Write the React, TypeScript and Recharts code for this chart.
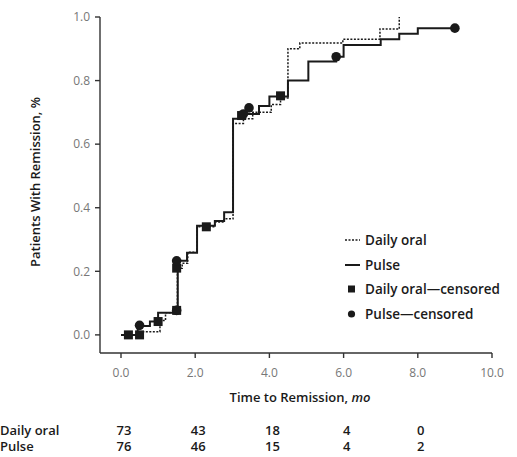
import {
    ComposedChart,
    Line,
    Scatter,
    XAxis,
    YAxis,
} from 'recharts';

// Kaplan-Meier style step data (time in months, proportion)
const oralTimes = [0, 0.6, 1.05, 1.2, 1.52, 1.65, 1.8, 2.05, 2.53, 2.78, 3.02, 3.3, 3.55, 4.05, 4.3, 4.5, 4.82, 5.98, 6.98, 7.5];
const oralValues = [0, 0.01, 0.045, 0.07, 0.21, 0.225, 0.26, 0.34, 0.355, 0.365, 0.665, 0.68, 0.7, 0.725, 0.745, 0.9, 0.918, 0.93, 0.962, 1.0];

const pulseTimes = [0, 0.45, 0.78, 1.0, 1.53, 1.78, 2.05, 2.53, 2.78, 3.02, 3.25, 3.72, 4.0, 4.5, 5.05, 5.8, 6.0, 7.0, 7.5, 8.0, 9.0];
const pulseValues = [0, 0.028, 0.042, 0.07, 0.233, 0.258, 0.343, 0.358, 0.386, 0.68, 0.695, 0.72, 0.75, 0.8, 0.86, 0.875, 0.912, 0.93, 0.947, 0.965, 0.965];

const oralCensorTimes = [0.2, 0.5, 1.0, 1.5, 1.5, 2.3, 3.25, 4.3];
const oralCensorValues = [0, 0, 0.042, 0.077, 0.21, 0.34, 0.69, 0.752];

const pulseCensorTimes = [0.5, 1.5, 1.5, 3.3, 3.45, 5.8, 9.0];
const pulseCensorValues = [0.03, 0.077, 0.233, 0.695, 0.714, 0.875, 0.965];

const xTicks = [0, 2, 4, 6, 8, 10];
const yTicks = [0, 0.2, 0.4, 0.6, 0.8, 1.0];

const riskTimes = [0, 2, 4, 6, 8];
const oralAtRisk = [73, 43, 18, 4, 0];
const pulseAtRisk = [76, 46, 15, 4, 2];

const legendItems = [
    { label: 'Daily oral', kind: 'dotted' },
    { label: 'Pulse', kind: 'solid' },
    { label: 'Daily oral\u2014censored', kind: 'square' },
    { label: 'Pulse\u2014censored', kind: 'circle' },
];

const zip = (ts: number[], vs: number[]) => ts.map((t, i) => ({ t, p: vs[i] }));

const oralData = zip(oralTimes, oralValues);
const pulseData = zip(pulseTimes, pulseValues);
const oralCensored = zip(oralCensorTimes, oralCensorValues);
const pulseCensored = zip(pulseCensorTimes, pulseCensorValues);

const font = '"Open Sans", Lato, sans-serif';
const ink = '#1a1a1a';
const axisColor = '#333';
const X_DOMAIN: [number, number] = [-0.566, 10];

const SquareMark = (props: any) => {
    const { cx, cy } = props;
    if (cx == null || cy == null) return null;
    return <rect x={cx - 4.5} y={cy - 4.5} width={9} height={9} fill={ink} />;
};

const CircleMark = (props: any) => {
    const { cx, cy } = props;
    if (cx == null || cy == null) return null;
    return <circle cx={cx} cy={cy} r={4.8} fill={ink} />;
};

const makeRiskTick = (name: string, counts: number[]) => (props: any) => {
    const { x, y, payload, index } = props;
    const n = counts[riskTimes.indexOf(payload.value)];
    return (
        <g>
            {index === 0 && (
                <text x={0} y={y} dy={14.5} fontFamily={font} fontSize={13} fontWeight={600} fill={ink}>
                    {name}
                </text>
            )}
            <text x={x + 3} y={y} dy={14.5} textAnchor="middle" fontFamily={font} fontSize={13} fontWeight={600} fill={ink}>
                {n}
            </text>
        </g>
    );
};

const XLabel = (props: any) => {
    const { viewBox } = props;
    const cx = viewBox.x + viewBox.width / 2;
    return (
        <text x={cx + 4} y={viewBox.y + 49} textAnchor="middle" fontFamily={font} fontSize={13} fontWeight={600} fill={ink}>
            Time to Remission, <tspan fontStyle="italic">mo</tspan>
        </text>
    );
};

const YLabel = (props: any) => {
    const { viewBox } = props;
    const cy = viewBox.y + viewBox.height / 2 - 3;
    return (
        <text
            x={40}
            y={cy}
            transform={`rotate(-90, 40, ${cy})`}
            textAnchor="middle"
            fontFamily={font}
            fontSize={13}
            fontWeight={600}
            fill={ink}
        >
            Patients With Remission, %
        </text>
    );
};

const LegendBox = () => (
    <div
        style={{
            position: 'absolute',
            left: 344,
            top: 228,
            fontFamily: font,
            fontSize: 13.5,
            fontWeight: 600,
            color: ink,
        }}
    >
        {legendItems.map((item) => (
            <div key={item.label} style={{ display: 'flex', alignItems: 'center', height: 24.5 }}>
                <svg width={18} height={10} style={{ marginRight: 3 }}>
                    {item.kind === 'dotted' && (
                        <line x1={1} y1={5} x2={16} y2={5} stroke={ink} strokeWidth={1.5} strokeDasharray="2 1.5" />
                    )}
                    {item.kind === 'solid' && <line x1={1} y1={5} x2={16} y2={5} stroke={ink} strokeWidth={2} />}
                    {item.kind === 'square' && <rect x={4} y={1.5} width={7} height={7} fill={ink} />}
                    {item.kind === 'circle' && <circle cx={7.5} cy={5} r={3.6} fill={ink} />}
                </svg>
                <span>{item.label}</span>
            </div>
        ))}
    </div>
);

export default function App() {
    return (
        <div style={{ position: 'absolute', left: 0, top: 0, width: 517, height: 457, background: '#fff' }}>
            <ComposedChart width={517} height={457} margin={{ top: 17, right: 25, left: 0, bottom: 4 }}>
                <XAxis
                    dataKey="t"
                    type="number"
                    domain={X_DOMAIN}
                    allowDataOverflow
                    ticks={xTicks}
                    tickFormatter={(v: number) => v.toFixed(1)}
                    tickSize={5}
                    tickMargin={10}
                    height={67}
                    stroke={axisColor}
                    strokeWidth={1.4}
                    tick={{ fill: '#777', fontSize: 12, fontFamily: font }}
                    label={<XLabel />}
                />
                <XAxis
                    xAxisId="oralRisk"
                    dataKey="t"
                    type="number"
                    domain={X_DOMAIN}
                    allowDataOverflow
                    ticks={riskTimes}
                    height={16.5}
                    axisLine={false}
                    tickLine={false}
                    tickSize={0}
                    tickMargin={0}
                    interval={0}
                    tick={makeRiskTick('Daily oral', oralAtRisk)}
                />
                <XAxis
                    xAxisId="pulseRisk"
                    dataKey="t"
                    type="number"
                    domain={X_DOMAIN}
                    allowDataOverflow
                    ticks={riskTimes}
                    height={16.5}
                    axisLine={false}
                    tickLine={false}
                    tickSize={0}
                    tickMargin={0}
                    interval={0}
                    tick={makeRiskTick('Pulse', pulseAtRisk)}
                />
                <YAxis
                    type="number"
                    domain={[-0.057, 1]}
                    allowDataOverflow
                    ticks={yTicks}
                    tickFormatter={(v: number) => v.toFixed(1)}
                    width={100}
                    tickSize={5}
                    tickMargin={5}
                    stroke={axisColor}
                    strokeWidth={1.4}
                    tick={{ fill: '#777', fontSize: 12, fontFamily: font }}
                    label={<YLabel />}
                />
                <Line
                    data={oralData}
                    dataKey="p"
                    type="stepAfter"
                    stroke={ink}
                    strokeWidth={1.5}
                    strokeDasharray="2 1.5"
                    dot={false}
                    isAnimationActive={false}
                />
                <Line
                    data={pulseData}
                    dataKey="p"
                    type="stepAfter"
                    stroke={ink}
                    strokeWidth={2}
                    dot={false}
                    isAnimationActive={false}
                />
                <Scatter data={oralCensored} dataKey="p" shape={<SquareMark />} isAnimationActive={false} />
                <Scatter data={pulseCensored} dataKey="p" shape={<CircleMark />} isAnimationActive={false} />
                {/* invisible anchors so the at-risk axes get a domain of their own */}
                <Scatter xAxisId="oralRisk" data={[]} dataKey="p" isAnimationActive={false} />
                <Scatter xAxisId="pulseRisk" data={[]} dataKey="p" isAnimationActive={false} />
            </ComposedChart>
            <LegendBox />
        </div>
    );
}
